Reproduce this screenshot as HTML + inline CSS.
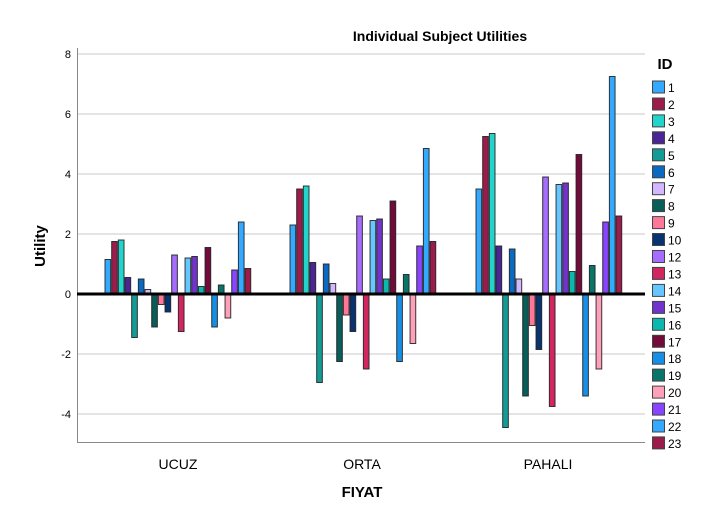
<!DOCTYPE html>
<html><head><meta charset="utf-8"><style>
html,body{margin:0;padding:0;background:#fff;}
svg{display:block;font-family:"Liberation Sans",Arial,sans-serif;}
</style></head><body>
<svg id="c" width="722" height="515" viewBox="0 0 722 515" xmlns="http://www.w3.org/2000/svg">
<rect width="722" height="515" fill="#fff"/>
<text x="440" y="41" font-size="14" font-weight="bold" text-anchor="middle">Individual Subject Utilities</text>
<text x="665" y="69" font-size="15" font-weight="bold" text-anchor="middle">ID</text>
<text transform="translate(45,246) rotate(-90)" font-size="15" font-weight="bold" text-anchor="middle">Utility</text>
<text x="362" y="497" font-size="15" font-weight="bold" text-anchor="middle">FIYAT</text>
<text x="178" y="469" font-size="14" text-anchor="middle">UCUZ</text>
<text x="362" y="469" font-size="14" text-anchor="middle">ORTA</text>
<text x="548" y="469" font-size="14" text-anchor="middle">PAHALI</text>
<g id="g"></g>
</svg>
<script>
var g=document.getElementById('g'),s='';
function y(v){return 294-30*v;}
[8,6,4,2,-2,-4].forEach(function(v){s+='<line x1="77" x2="645" y1="'+y(v)+'" y2="'+y(v)+'" stroke="#c8c8c8" stroke-width="1"/>';});
[8,6,4,2,0,-2,-4].forEach(function(v){s+='<text x="71" y="'+(y(v)+4)+'" font-size="11" text-anchor="end">'+v+'</text>';});
s+='<line x1="77.5" x2="77.5" y1="48" y2="442" stroke="#888"/>';
s+='<line x1="77" x2="645" y1="442.5" y2="442.5" stroke="#888"/>';
var ids=[1,2,3,4,5,6,7,8,9,10,12,13,14,15,16,17,18,19,20,21,22,23];
var cols=['#33aaff','#9b1b4a','#22d4cc','#4b2595','#129c95','#0a6ac2','#d4b8ff','#085e58','#ff7799','#073370','#a66cff','#d1265e','#66c6ff','#7133cc','#0ab8b0','#720b3a','#1590e6','#087568','#ffa0bb','#8844ff','#33aaff','#9b1b4a'];
var data=[
[1.15,1.75,1.8,0.55,-1.45,0.5,0.15,-1.1,-0.35,-0.6,1.3,-1.25,1.2,1.25,0.25,1.55,-1.1,0.3,-0.8,0.8,2.4,0.85],
[2.3,3.5,3.6,1.05,-2.95,1.0,0.35,-2.25,-0.7,-1.25,2.6,-2.5,2.45,2.5,0.5,3.1,-2.25,0.65,-1.65,1.6,4.85,1.75],
[3.5,5.25,5.35,1.6,-4.45,1.5,0.5,-3.4,-1.05,-1.85,3.9,-3.75,3.65,3.7,0.75,4.65,-3.4,0.95,-2.5,2.4,7.25,2.6]];
var starts=[105,290,476],w=6.67;
data.forEach(function(d,gi){d.forEach(function(v,i){
 var x=starts[gi]+i*w,y0=Math.min(y(v),294),h=Math.abs(30*v);
 s+='<rect x="'+x.toFixed(2)+'" y="'+y0+'" width="'+(w-1).toFixed(2)+'" height="'+h+'" fill="'+cols[i]+'" stroke="#222" stroke-width="1" stroke-opacity="0.9"/>';
});});
s+='<line x1="77" x2="645" y1="294" y2="294" stroke="#000" stroke-width="3"/>';
ids.forEach(function(id,i){var yy=81+i*16.95;
 s+='<rect x="652.5" y="'+yy.toFixed(1)+'" width="12" height="12" fill="'+cols[i]+'" stroke="#444"/>';
 s+='<text x="668" y="'+(yy+11).toFixed(1)+'" font-size="12">'+id+'</text>';});
g.innerHTML=s;
</script>
</body></html>
